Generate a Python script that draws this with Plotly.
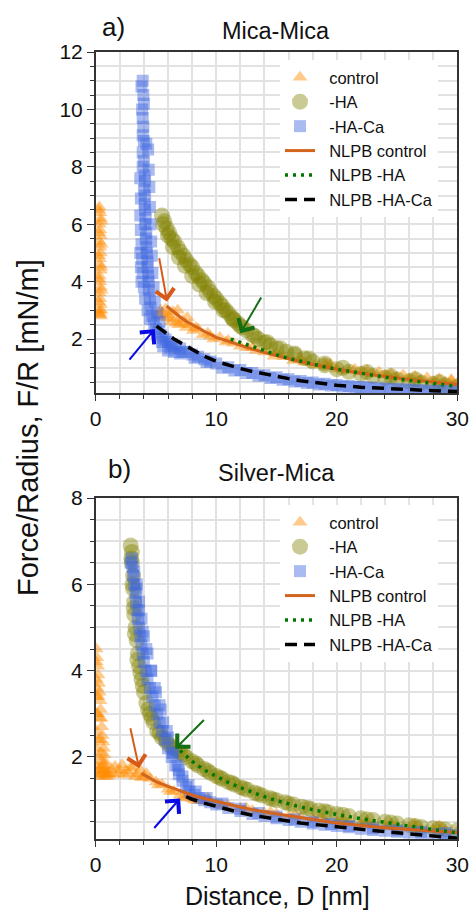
import plotly.graph_objects as go

# ---------------- data: panel a) Mica-Mica ----------------
ctrl_a_D = [0.3,0.35,0.4,0.3,0.35,0.4,0.3,0.35,0.4,0.3,0.35,0.4,0.3,0.35,0.4,0.3,0.35,0.4,0.3,0.35,0.4,
            5.2,5.4,5.6,5.8,6.0,6.2,6.4,6.6,6.9,7.2,7.5,7.8,8.1,8.5,8.9,9.3,9.8,10.3,10.8,11.4,12.0,12.6,13.3,14.0,
            14.8,15.6,16.4,17.3,18.2,19.1,20.0,21.0,22.0,23.0,24.0,25.0,26.0,27.0,28.0,29.0,30.0,
            6.8,7.6,19.5,22.5,24.5,26.5,28.5,29.5]
ctrl_a_F = [6.6,6.4,6.2,6.0,5.8,5.6,5.4,5.2,5.0,4.8,4.6,4.4,4.2,4.0,3.8,3.6,3.4,3.2,3.0,2.9,2.8,
            2.85,3.0,2.75,3.05,2.85,2.6,2.95,2.7,2.5,2.65,2.4,2.5,2.3,2.35,2.15,2.2,2.0,2.05,1.9,1.85,1.75,1.7,1.6,1.55,
            1.4,1.38,1.25,1.2,1.1,1.05,0.95,0.9,0.85,0.78,0.75,0.66,0.62,0.58,0.52,0.5,0.45,
            3.0,2.75,1.12,0.9,0.8,0.7,0.62,0.58]
ctrl_a_D_more = [0.25,0.45,0.25,0.45,0.25,0.45,0.25,0.45,0.25,0.45,0.3,
                 5.5,6.1,6.7,7.4,8.3,9.5,11.0,13.0,15.0,17.0,19.0,21.5,23.5,25.5,27.5,29.5]
ctrl_a_F_more = [6.5,6.1,5.7,5.3,4.9,4.5,4.1,3.7,3.3,3.0,2.85,
                 2.9,2.75,2.55,2.55,2.4,2.1,1.95,1.7,1.5,1.3,1.15,0.95,0.85,0.75,0.65,0.55]

ha_a_D = [5.5,5.7,5.9,6.1,6.3,6.5,6.8,7.0,7.3,7.5,7.8,8.0,8.3,8.5,8.8,9.0,9.3,9.5,9.8,10.0,10.3,10.5,10.8,11.0,
          11.3,11.5,11.8,12.0,12.5,13.0,13.5,14.0,14.5,15.0,15.8,16.5,17.3,18.0,19.0,20.0,21.0,22.0,23.0,24.0,
          25.0,26.0,27.0,28.0,29.0,30.0]
ha_a_F = [6.3,6.1,5.85,5.7,5.5,5.4,5.2,5.05,4.9,4.75,4.6,4.5,4.3,4.2,4.05,3.95,3.8,3.65,3.5,3.4,3.25,3.15,3.0,2.9,
          2.75,2.65,2.55,2.45,2.3,2.15,2.0,1.88,1.78,1.68,1.56,1.45,1.33,1.22,1.08,0.95,0.86,0.78,0.71,0.65,
          0.59,0.53,0.48,0.43,0.39,0.35]
ha_a_D_more = [5.6,6.0,6.4,6.9,7.4,8.0,8.6,9.2,9.9,10.6,11.4,12.2,13.2,14.2,15.3,16.5,17.7,19.0,20.5,22.5,24.5,26.5,28.5]
ha_a_F_more = [6.0,5.6,5.2,4.85,4.55,4.2,3.9,3.6,3.3,3.0,2.7,2.4,2.1,1.9,1.68,1.5,1.32,1.15,1.0,0.85,0.7,0.6,0.5]

ca_a_D = [3.9,3.8,3.95,4.0,3.85,3.9,3.95,3.9,4.0,4.2,3.9,4.0,3.9,4.05,4.1,4.0,4.1,4.05,4.1,4.15,
          4.1,4.2,4.15,4.2,4.25,4.3,4.3,4.35,4.4,4.4,4.5,4.55,4.7,4.85,5.0,5.2,5.4,5.6,5.8,6.0,
          6.3,6.6,7.0,7.5,8.0,8.5,9.0,9.5,10.0,11.0,12.0,13.0,14.0,15.0,16.0,17.0,18.0,19.0,20.0,21.0,
          22.0,23.0,24.0,25.0,26.0,27.0,28.0,29.0,30.0,5.6,6.0,6.5,7.0,3.7,3.75,3.8]
ca_a_F = [11.0,10.8,10.5,10.2,10.0,9.7,9.4,9.1,8.9,8.8,8.5,8.2,8.0,7.7,7.5,7.2,7.0,6.7,6.5,6.2,
          6.0,5.7,5.5,5.2,5.0,4.7,4.5,4.2,4.0,3.7,3.4,3.1,2.8,2.55,2.35,2.25,2.15,2.05,1.98,1.9,
          1.82,1.76,1.67,1.56,1.46,1.38,1.3,1.22,1.15,1.02,0.92,0.82,0.74,0.67,0.6,0.54,0.49,0.44,0.4,0.36,
          0.33,0.3,0.28,0.26,0.24,0.22,0.2,0.19,0.18,1.75,1.6,1.55,1.5,5.0,4.5,4.0]
ca_a_D_more = [3.7,3.75,3.7,3.75,3.8,3.85,3.9,4.0,4.1,4.3,4.5,4.35,4.4,4.45,4.5,4.55,4.6,4.65,4.7,4.8,4.9,5.1,5.3,
               5.5,6.2,7.2,8.2,9.2,10.5,11.5,12.5,13.5,14.5,15.5,16.5,17.5,18.5,19.5,20.5,21.5,22.5,23.5,24.5,
               25.5,26.5,27.5,28.5,29.5]
ca_a_F_more = [7.6,6.9,6.3,5.8,5.3,4.8,4.3,3.8,3.4,3.0,2.7,8.6,7.9,7.3,6.6,6.0,5.4,4.9,4.3,3.8,3.3,2.9,2.6,
               1.9,1.7,1.55,1.35,1.2,1.0,0.9,0.82,0.72,0.64,0.58,0.52,0.47,0.42,0.38,0.35,0.32,0.3,0.27,0.25,
               0.23,0.22,0.2,0.19,0.18]

fit_ctrl_a_D = [5.88,6.5,7,7.5,8,9,10,11,12,13,14,15,16,17,18,19,20,22,24,26,28,30]
fit_ctrl_a_F = [3.15,2.93,2.77,2.62,2.5,2.27,2.06,1.92,1.78,1.65,1.53,1.42,1.31,1.21,1.12,1.03,0.95,0.81,0.69,0.59,0.5,0.42]
fit_ha_a_D = [11.2,12,13,14,15,16,17,18,19,20,22,24,26,28,30]
fit_ha_a_F = [2.0,1.88,1.72,1.58,1.45,1.33,1.22,1.12,1.03,0.95,0.8,0.67,0.56,0.45,0.35]
fit_ca_a_D = [5.05,5.5,6,6.5,7,7.5,8,9,10,11,12,13,14,15,16,17,18,19,20,22,24,26,28,30]
fit_ca_a_F = [2.45,2.3,2.15,2.0,1.88,1.76,1.64,1.4,1.22,1.08,0.97,0.87,0.78,0.7,0.62,0.55,0.49,0.44,0.39,0.32,0.27,0.23,0.2,0.17]

# ---------------- data: panel b) Silver-Mica ----------------
ctrl_b_D = [0.05,0.1,0.15,0.2,0.25,0.3,0.35,0.4,0.45,0.5,0.55,0.6,0.65,0.7,0.75,0.8,0.9,1.0,1.1,
            0.1,0.15,0.2,0.25,0.3,0.4,0.5,0.15,0.6,
            1.3,1.6,1.9,2.2,2.5,2.8,3.1,3.4,3.7,4.0,
            4.5,5.0,5.5,6.0,6.5,7.0,7.5,8.0,8.5,9.0,9.5,10,11,12,13,14,15,16,17,18,19,20,
            21,22,23,24,25,26,27,28,29,30]
ctrl_b_F = [4.5,4.3,4.1,3.9,3.7,3.5,3.3,3.1,2.9,2.7,2.5,2.35,2.2,2.05,1.9,1.8,1.7,1.62,1.58,
            3.6,3.0,2.4,2.0,1.7,1.6,1.9,1.6,1.65,
            1.72,1.78,1.62,1.82,1.68,1.62,1.78,1.6,1.7,1.55,
            1.5,1.42,1.36,1.25,1.2,1.12,1.08,1.03,1.0,0.98,0.96,0.92,0.87,0.8,0.76,0.7,0.68,0.62,0.6,0.56,0.52,0.5,
            0.48,0.44,0.42,0.4,0.38,0.36,0.33,0.32,0.3,0.28]
ctrl_b_D_more = [0.05,0.05,0.05,0.05,0.05,0.05,0.05,0.2,0.3,0.35,0.45,0.55,0.65,0.8,0.95,0.25,0.4,0.7,
                 1.5,2.0,2.4,2.9,3.3,3.8,4.2,5.2,6.2,7.2,8.2,9.3,10.5,12.5,14.5,16.5,18.5,20.5,22.5,24.5,26.5,28.5]
ctrl_b_F_more = [4.2,3.8,3.4,3.0,2.6,2.2,1.8,3.4,2.9,2.4,2.1,1.8,1.7,1.6,1.55,1.55,1.75,1.55,
                 1.6,1.7,1.58,1.75,1.55,1.52,1.62,1.35,1.2,1.05,1.0,1.05,0.88,0.82,0.72,0.66,0.6,0.55,0.5,0.45,0.45,0.4]

ha_b_D = [2.9,3.0,3.0,3.1,3.1,3.2,3.2,3.3,3.4,3.5,3.6,3.8,4.0,4.2,4.5,4.8,5.1,5.5,6.0,6.5,
          7.0,7.5,8.0,8.5,9.0,9.5,10,10.5,11,11.5,12,12.6,13.2,13.8,14.4,15,15.7,16.4,17.1,17.8,
          18.5,19.3,20,21,22,23,24,25,26,27,28,29,30]
ha_b_F = [6.9,6.75,6.5,6.2,5.9,5.6,5.3,5.0,4.7,4.4,4.1,3.8,3.5,3.25,3.0,2.8,2.6,2.45,2.3,2.2,
          2.1,2.0,1.9,1.8,1.72,1.63,1.56,1.49,1.42,1.36,1.3,1.24,1.17,1.11,1.05,1.0,0.95,0.9,0.85,0.8,
          0.76,0.72,0.68,0.63,0.58,0.54,0.5,0.46,0.42,0.38,0.35,0.32,0.3]
ha_b_D_more = [2.95,3.05,3.15,3.25,3.45,3.7,3.9,4.35,4.65,5.3,5.8,6.3,6.8,7.3,8.3,9.3,10.3,11.3,12.3,13.5,
               14.7,16.0,17.5,19.0,20.5,22.5,24.5,26.5,28.5]
ha_b_F_more = [6.6,6.0,5.45,4.85,4.25,3.95,3.65,3.1,2.9,2.55,2.38,2.25,2.15,2.05,1.85,1.68,1.52,1.4,1.27,1.14,
               1.02,0.92,0.82,0.74,0.66,0.56,0.48,0.4,0.34]

ca_b_D = [2.9,3.0,3.05,3.1,3.2,3.3,3.35,3.45,3.5,3.6,3.7,3.8,3.9,4.0,4.15,4.3,4.5,4.7,4.9,5.1,
          5.3,5.5,5.75,6.0,6.3,6.6,6.9,7.2,7.5,7.8,8.2,8.6,9.0,9.5,10,11,12,13,14,15,
          16,17,18,19,20,21,22,23,24,25,26,27,28,29,30,
          3.4,3.6,3.9,4.2,4.6,5.0,5.4,5.9,6.4,6.9]
ca_b_F = [6.5,6.6,6.4,6.2,6.0,5.8,5.6,5.4,5.2,5.0,4.8,4.6,4.4,4.2,4.0,3.8,3.6,3.4,3.2,3.0,
          2.8,2.6,2.4,2.2,2.0,1.8,1.6,1.45,1.3,1.2,1.12,1.05,1.0,0.95,0.9,0.82,0.75,0.68,0.63,0.58,
          0.54,0.5,0.46,0.43,0.4,0.37,0.34,0.31,0.29,0.27,0.25,0.23,0.21,0.2,0.19,
          5.9,5.4,4.9,4.5,4.0,3.5,3.1,2.6,2.1,1.7]
ca_b_D_more = [3.2,3.4,3.6,3.8,4.0,4.3,4.6,4.9,5.3,5.6,6.0,6.4,6.8,7.2,7.7,8.3,9.2,10.5,12,13.5,15,16.5,18,
               19.5,21,23,25,27,29]
ca_b_F_more = [6.3,6.0,5.6,5.2,4.8,4.4,4.0,3.6,3.2,2.8,2.45,2.1,1.8,1.55,1.35,1.2,1.05,0.92,0.8,0.7,0.62,0.56,0.5,
               0.45,0.4,0.35,0.3,0.27,0.24]

fit_ctrl_b_D = [3.8,4.5,5,6,7,8,9,10,11,12,13,14,15,16,17,18,19,20,22,24,26,28,30]
fit_ctrl_b_F = [1.62,1.5,1.43,1.32,1.22,1.12,1.04,0.97,0.9,0.84,0.78,0.73,0.68,0.64,0.6,0.55,0.51,0.47,0.41,0.36,0.32,0.28,0.25]
fit_ha_b_D = [7.0,7.5,8,9,10,11,12,13,14,15,16,17,18,19,20,22,24,26,28,30]
fit_ha_b_F = [2.15,2.02,1.9,1.7,1.55,1.41,1.29,1.18,1.08,0.99,0.91,0.84,0.78,0.72,0.67,0.57,0.48,0.4,0.32,0.24]
fit_ca_b_D = [7.5,8,9,10,11,12,13,14,15,16,17,18,19,20,22,24,26,28,30]
fit_ca_b_F = [1.08,1.02,0.93,0.85,0.78,0.71,0.65,0.6,0.55,0.51,0.47,0.44,0.41,0.38,0.32,0.27,0.22,0.17,0.12]

names = ["control", "-HA", "-HA-Ca", "NLPB control", "NLPB -HA", "NLPB -HA-Ca"]
x_ticks = [0, 10, 20, 30]

# ---------------- styling ----------------
W, H = 471, 910
FONT = "Liberation Sans, Arial, sans-serif"
C_CTRL = "rgb(255,140,0)"
C_HA = "rgb(128,128,0)"
C_CA = "rgb(65,105,225)"
C_FIT_CTRL = "rgb(210,100,30)"
C_FIT_HA = "rgb(0,120,0)"
GRID = "#e2e2e2"
PAD = "\u00a0\u00a0"

def px(x):
    return x / W

def py(y):
    return 1 - y / H

fig = go.Figure()

panels = [
    dict(xa="x", ya="y", legend="legend",
         pts=[(ctrl_a_D + ctrl_a_D_more, ctrl_a_F + ctrl_a_F_more),
              (ha_a_D + ha_a_D_more, ha_a_F + ha_a_F_more),
              (ca_a_D + ca_a_D_more, ca_a_F + ca_a_F_more)],
         fits=[(fit_ctrl_a_D, fit_ctrl_a_F), (fit_ha_a_D, fit_ha_a_F), (fit_ca_a_D, fit_ca_a_F)]),
    dict(xa="x2", ya="y2", legend="legend2",
         pts=[(ctrl_b_D + ctrl_b_D_more, ctrl_b_F + ctrl_b_F_more),
              (ha_b_D + ha_b_D_more, ha_b_F + ha_b_F_more),
              (ca_b_D + ca_b_D_more, ca_b_F + ca_b_F_more)],
         fits=[(fit_ctrl_b_D, fit_ctrl_b_F), (fit_ha_b_D, fit_ha_b_F), (fit_ca_b_D, fit_ca_b_F)]),
]

marker_styles = [
    dict(symbol="triangle-up", size=13, color=C_CTRL, opacity=0.45, line=dict(width=0)),
    dict(symbol="circle", size=16, color=C_HA, opacity=0.42, line=dict(width=0)),
    dict(symbol="square", size=12, color=C_CA, opacity=0.45, line=dict(width=0)),
]
line_styles = [
    dict(color=C_FIT_CTRL, width=3),
    dict(color=C_FIT_HA, width=3.5, dash="3px,5px"),
    dict(color="black", width=3.5, dash="12px,7px"),
]

for p in panels:
    for i, (dx, fy) in enumerate(p["pts"]):
        fig.add_trace(go.Scatter(x=dx, y=fy, mode="markers", name=PAD + names[i],
                                 marker=marker_styles[i], xaxis=p["xa"], yaxis=p["ya"],
                                 legend=p["legend"]))
    for i, (dx, fy) in enumerate(p["fits"]):
        fig.add_trace(go.Scatter(x=dx, y=fy, mode="lines", name=PAD + names[i + 3],
                                 line=line_styles[i], xaxis=p["xa"], yaxis=p["ya"],
                                 legend=p["legend"]))

xdom = [px(95.7), px(457.3)]

def xaxis_cfg(anchor):
    return dict(domain=xdom, range=[0, 30], tickvals=x_ticks, anchor=anchor, automargin=False,
                ticks="outside", ticklen=6, tickwidth=1.2, tickcolor="#333",
                showline=True, linecolor="#333", linewidth=1.5, mirror=True,
                showgrid=True, gridcolor=GRID, gridwidth=1.5, zeroline=False,
                minor=dict(dtick=2, tick0=0, showgrid=True, gridcolor=GRID, gridwidth=1.5,
                           ticks="outside", ticklen=4, tickcolor="#333"),
                tickfont=dict(size=21, color="#111", family=FONT))

def yaxis_cfg(anchor, dom, rng):
    return dict(domain=dom, range=rng, dtick=2, tick0=0, anchor=anchor, automargin=False,
                ticks="outside", ticklen=7, tickwidth=1.2, tickcolor="#333",
                showline=True, linecolor="#333", linewidth=1.5, mirror=True,
                showgrid=True, gridcolor=GRID, gridwidth=1.5, zeroline=False,
                minor=dict(dtick=0.5, tick0=0, showgrid=True, gridcolor=GRID, gridwidth=1.5,
                           ticks="outside", ticklen=4, tickcolor="#333"),
                tickfont=dict(size=21, color="#111", family=FONT))

legend_common = dict(bgcolor="white", borderwidth=0, xanchor="left", yanchor="top",
                     font=dict(size=16.5, color="#111", family=FONT), traceorder="normal")

fig.update_layout(
    template="none",
    width=W, height=H, autosize=False,
    margin=dict(l=0, r=0, t=0, b=0, pad=0),
    paper_bgcolor="white", plot_bgcolor="white",
    font=dict(family=FONT, color="#111"),
    xaxis=xaxis_cfg("y"),
    yaxis=yaxis_cfg("x", [py(393), py(52)], [0.12, 12]),
    xaxis2=xaxis_cfg("y2"),
    yaxis2=yaxis_cfg("x2", [py(839), py(498)], [0.1, 8]),
    legend=dict(x=px(280), y=py(60), **legend_common),
    legend2=dict(x=px(280), y=py(505), **legend_common),
)

# ---------------- text ----------------
texts = [
    ("a)", 113, 27, 26), ("Mica-Mica", 276, 31, 23.5),
    ("b)", 119, 469, 26), ("Silver-Mica", 276, 473, 23.5),
    ("Distance, D [nm]", 277, 896, 25),
]
for t, x, y, s in texts:
    fig.add_annotation(text=t, x=px(x), y=py(y), xref="paper", yref="paper",
                       showarrow=False, xanchor="center", yanchor="middle",
                       font=dict(size=s, color="#111", family=FONT))
fig.add_annotation(text="Force/Radius, F/R [mN/m]", x=px(28), y=py(428), xref="paper", yref="paper",
                   showarrow=False, textangle=-90, xanchor="center", yanchor="middle",
                   font=dict(size=29, color="#111", family=FONT))

# ---------------- arrows ----------------
arrows = [
    ("x", "y", 5.92, 3.3, 5.25, 4.87, "rgb(215,90,25)"),
    ("x", "y", 12.0, 2.2, 13.8, 3.5, "rgb(20,110,20)"),
    ("x", "y", 4.9, 2.35, 2.7, 1.23, "rgb(10,10,230)"),
    ("x2", "y2", 3.6, 1.74, 2.85, 2.7, "rgb(215,90,25)"),
    ("x2", "y2", 6.6, 2.19, 9.1, 2.89, "rgb(20,110,20)"),
    ("x2", "y2", 7.0, 1.04, 4.75, 0.32, "rgb(10,10,230)"),
]
for xr, yr, hx, hy, tx, ty, c in arrows:
    fig.add_annotation(x=hx, y=hy, ax=tx, ay=ty, xref=xr, yref=yr, axref=xr, ayref=yr,
                       text="", showarrow=True, arrowhead=4, arrowsize=1.8,
                       arrowwidth=2, arrowcolor=c)

fig.write_html("out.html", config={"displayModeBar": False},
               post_script="document.body.style.margin='0';")
